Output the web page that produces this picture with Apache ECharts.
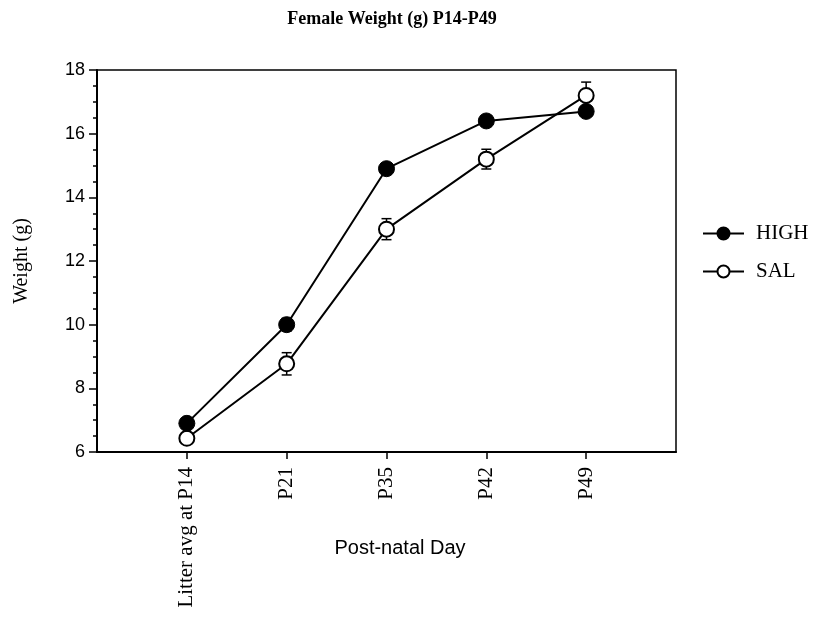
<!DOCTYPE html>
<html>
<head>
<meta charset="utf-8">
<script src="https://cdn.jsdelivr.net/npm/echarts@6/dist/echarts.min.js"></script>
<style>html,body{margin:0;padding:0;background:#fff}#c{width:814px;height:627px}</style>
</head>
<body>
<div id="c"></div>
<script>
var categories = ['Litter avg at P14', 'P21', 'P35', 'P42', 'P49'];
var highValues = [6.9, 10.0, 14.9, 16.4, 16.7];
var highErr = [0.15, 0.2, 0.15, 0.15, 0.15];
var salValues = [6.43, 8.77, 13.0, 15.2, 17.2];
var salErr = [0.15, 0.35, 0.33, 0.31, 0.42];
var yTicks = [6, 8, 10, 12, 14, 16, 18];

var serif = '"Liberation Serif", "Times New Roman", serif';
var sans = '"Liberation Sans", Arial, sans-serif';
var positions = categories.map(function (c, i) { return i + 1; });

function pts(vals) { return vals.map(function (v, i) { return [positions[i], v]; }); }
function errData(vals, errs) { return vals.map(function (v, i) { return [positions[i], v - errs[i], v + errs[i]]; }); }

function renderErr(params, api) {
  var x = api.value(0);
  var lo = api.coord([x, api.value(1)]);
  var hi = api.coord([x, api.value(2)]);
  var w = 5;
  var st = { stroke: '#000', lineWidth: 1.5 };
  return { type: 'group', children: [
    { type: 'line', shape: { x1: lo[0], y1: lo[1], x2: hi[0], y2: hi[1] }, style: st },
    { type: 'line', shape: { x1: hi[0] - w, y1: hi[1], x2: hi[0] + w, y2: hi[1] }, style: st },
    { type: 'line', shape: { x1: lo[0] - w, y1: lo[1], x2: lo[0] + w, y2: lo[1] }, style: st }
  ]};
}

var chart = echarts.init(document.getElementById('c'), null, { renderer: 'canvas' });
chart.setOption({
  animation: false,
  backgroundColor: '#fff',
  title: [{
    text: 'Female Weight (g) P14-P49',
    left: 387, top: 5, textAlign: 'center',
    textStyle: { fontFamily: serif, fontWeight: 'bold', fontSize: 18, color: '#000' }
  }, {
    text: 'Post-natal Day',
    left: 395, top: 533, textAlign: 'center',
    textStyle: { fontFamily: sans, fontWeight: 'normal', fontSize: 20, color: '#000' }
  }],
  legend: {
    orient: 'vertical', left: 697, top: 218, itemWidth: 41, itemHeight: 15, itemGap: 17,
    textStyle: { fontFamily: serif, fontSize: 21, color: '#000', padding: [0, 0, 0, 7] },
    data: ['HIGH', 'SAL']
  },
  grid: { left: 97, right: 138, top: 70, bottom: 175, show: true, borderColor: '#000', borderWidth: 1.5, backgroundColor: 'transparent' },
  xAxis: {
    type: 'value', min: 0.1, max: 5.9,
    axisLine: { lineStyle: { color: '#000', width: 2 } },
    axisTick: { show: true, customValues: positions, length: 7, lineStyle: { color: '#000', width: 1.5 } },
    axisLabel: {
      customValues: positions, rotate: 90, margin: 15,
      fontFamily: serif, fontSize: 21, color: '#000',
      formatter: function (v) { return categories[Math.round(v) - 1] || ''; }
    },
    splitLine: { show: false }
  },
  yAxis: {
    type: 'value', min: yTicks[0], max: yTicks[yTicks.length - 1], interval: 2,
    name: 'Weight (g)', nameLocation: 'middle', nameGap: 65, nameRotate: 90,
    nameTextStyle: { fontFamily: serif, fontSize: 20, color: '#000' },
    axisLine: { show: true, lineStyle: { color: '#000', width: 2 } },
    axisTick: { show: true, length: 8, lineStyle: { color: '#000', width: 1.5 } },
    minorTick: { show: true, splitNumber: 4, length: 4, lineStyle: { color: '#000', width: 1.5 } },
    axisLabel: { fontFamily: sans, fontSize: 18, color: '#000', margin: 12 },
    splitLine: { show: false }
  },
  series: [
    { type: 'custom', name: 'HIGH err', renderItem: renderErr, data: errData(highValues, highErr), z: 1, silent: true },
    { type: 'custom', name: 'SAL err', renderItem: renderErr, data: errData(salValues, salErr), z: 1, silent: true },
    {
      type: 'line', name: 'HIGH', data: pts(highValues), z: 3,
      symbol: 'circle', symbolSize: 16,
      lineStyle: { color: '#000', width: 2 },
      itemStyle: { color: '#000', borderColor: '#000', borderWidth: 1 }
    },
    {
      type: 'line', name: 'SAL', data: pts(salValues), z: 2,
      symbol: 'circle', symbolSize: 15,
      lineStyle: { color: '#000', width: 2 },
      itemStyle: { color: '#fff', borderColor: '#000', borderWidth: 2 }
    }
  ]
});
</script>
</body>
</html>
